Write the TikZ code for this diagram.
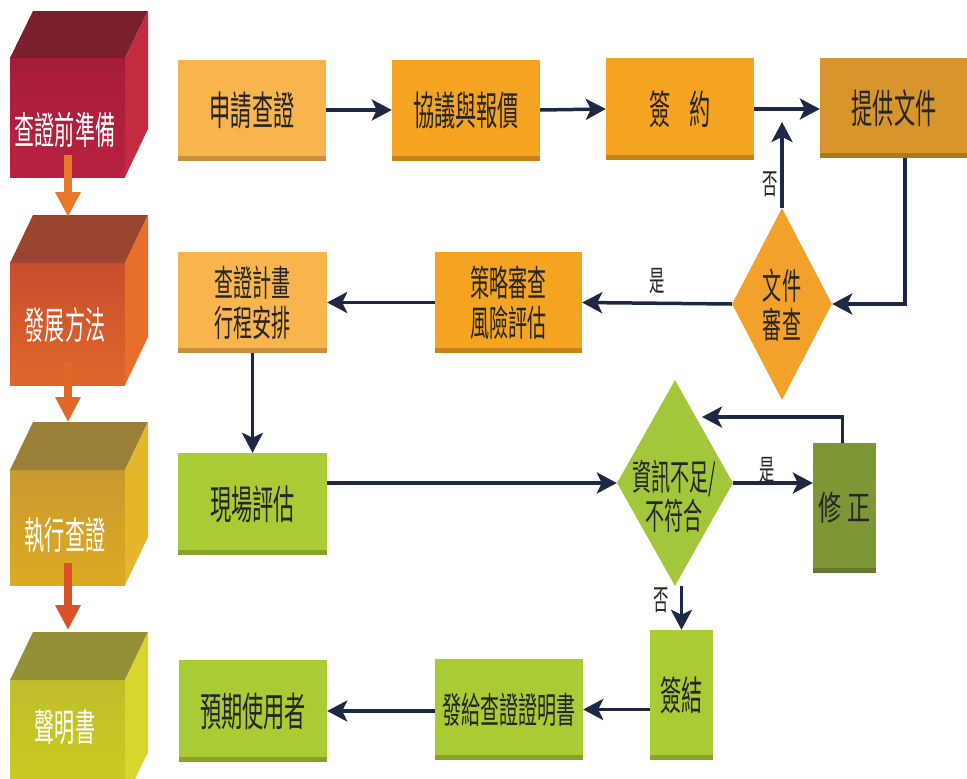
\documentclass[tikz,border=0pt]{standalone}
\usepackage{fontspec}
\usetikzlibrary{arrows.meta,shapes.geometric}
\newfontfamily\cjk[FakeStretch=0.53]{Noto Sans CJK TC}
\newfontfamily\cjkw[FakeStretch=0.68]{Noto Sans CJK TC}
\definecolor{lorange}{HTML}{F8B54E}
\definecolor{morange}{HTML}{F5A422}
\definecolor{gold}{HTML}{D8952B}
\definecolor{dorange}{HTML}{F2A12A}
\definecolor{ygreen}{HTML}{A9CC35}
\definecolor{dgreen}{HTML}{A2C73A}
\definecolor{olive}{HTML}{7D9636}
\definecolor{navy}{HTML}{1E2844}
\definecolor{txt}{HTML}{262626}
\definecolor{aro1}{HTML}{E9782A}
\definecolor{aro2}{HTML}{E2682A}
\definecolor{aro3}{HTML}{D9522A}
\newcommand\mycube[8]{%
  % #1 top y, #2 front top y, #3 front bottom y, #4 right bottom y
  % #5 front top color, #6 front bottom color, #7 top face, #8 right face
  \definecolor{cubeA}{HTML}{#5}\definecolor{cubeB}{HTML}{#6}%
  \definecolor{cubeC}{HTML}{#7}\definecolor{cubeD}{HTML}{#8}%
  \shade[top color=cubeA,bottom color=cubeB] (10,#2) rectangle (125,#3);
  \fill[cubeC] (10,#2) -- (33,#1) -- (148,#1) -- (125,#2) -- cycle;
  \fill[cubeD] (125,#2) -- (148,#1) -- (148,#4) -- (125,#3) -- cycle;
}
\begin{document}
\begin{tikzpicture}[x=1pt,y=-1pt,
  box/.style={rectangle, inner sep=0pt, text=txt, align=center,
    font=\cjk\fontsize{40}{40}\selectfont,
    path picture={\fill[black,opacity=0.2] ([yshift=5pt]path picture bounding box.south west) rectangle (path picture bounding box.south east);}},
  two/.style={font=\cjk\fontsize{36}{40}\selectfont},
  dia/.style={diamond, inner sep=0pt},
  dtext/.style={inner sep=0pt, text=txt, align=center, font=\cjk\fontsize{36}{39}\selectfont},
  arr/.style={draw=navy, line width=3.5pt, -{Stealth[length=20pt,width=21pt,inset=5pt]}},
  lbl/.style={font=\cjk\fontsize{29}{30}\selectfont, text=txt, inner sep=0pt},
  cubetxt/.style={font=\cjk\fontsize{38}{40}\selectfont, text=white, inner sep=0pt},
  blk/.style={line width=8pt, -{Triangle[length=25pt,width=24pt]}}
]
\clip (0,0) rectangle (967,779);
\fill[white] (0,0) rectangle (967,779);

% left cubes
\mycube{11}{58}{177}{129}{A51D3A}{B82240}{7A1F2E}{C42A40}
\mycube{215}{263}{385}{337}{C84E2E}{E0672A}{9A4530}{E86E2C}
\mycube{422}{470}{585}{537}{C89A30}{DDAA22}{9A8036}{E5B52A}
\mycube{632}{680}{800}{752}{C0BE2A}{CCCC22}{958F38}{D6D62C}
\node[cubetxt] (c1) at (65,130) {查證前準備};
\node[cubetxt] (c2) at (65,325) {發展方法};
\node[cubetxt] (c3) at (65,535) {執行查證};
\node[cubetxt] (c4) at (65,727) {聲明書};
\coordinate (s1) at (68,155); \coordinate (e1) at (68,217);
\coordinate (s2) at (68,362); \coordinate (e2) at (68,422);
\coordinate (s3) at (68,563); \coordinate (e3) at (68,630);
\draw[blk, aro1] (s1) -- (e1);
\draw[blk, aro2] (s2) -- (e2);
\draw[blk, aro3] (s3) -- (e3);

% row 1
\node[box, fill=lorange, minimum width=148pt, minimum height=101pt] (b1) at (252,110) {申請查證};
\node[box, fill=morange, minimum width=148pt, minimum height=101pt] (b2) at (466,110) {協議與報價};
\node[box, fill=morange, minimum width=148pt, minimum height=102pt] (b3) at (680,109) {簽\hspace{18pt}約};
\node[box, fill=gold, minimum width=148pt, minimum height=100pt] (b4) at (894,108) {提供文件};

% row 2
\node[dia, fill=dorange, minimum width=100pt, minimum height=192pt] (d1) at (782,304) {};
\node[dtext] (d1t) at (782,305) {文件\\審查};
\node[box, two, fill=morange, minimum width=147pt, minimum height=101pt] (b5) at (508.5,302.5) {策略審查\\風險評估};
\node[box, two, fill=lorange, minimum width=149pt, minimum height=101pt] (b6) at (252.5,302.5) {查證計畫\\行程安排};

% row 3
\node[box, fill=ygreen, minimum width=149pt, minimum height=102pt] (b7) at (252.5,504) {現場評估};
\node[dia, fill=dgreen, minimum width=116pt, minimum height=206pt] (d2) at (675,483) {};
\node[dtext] (d2t) at (674,496) {資訊不足/\\不符合};
\node[box, fill=olive, minimum width=63pt, minimum height=130pt, font=\cjkw\fontsize{34}{40}\selectfont] (b8) at (844.5,508) {修\hspace{6pt}正};

% row 4
\node[box, fill=ygreen, minimum width=63pt, minimum height=130pt] (b9) at (681.5,695) {簽結};
\node[box, two, fill=ygreen, minimum width=148pt, minimum height=101pt] (b10) at (509,709.5) {發給查證證明書};
\node[box, fill=ygreen, minimum width=148pt, minimum height=102pt] (b11) at (253,711) {預期使用者};

% connectors
\draw[arr] (b1.east) -- (b2.west);
\draw[arr] (b2.east) -- (b3.west);
\draw[arr] (b3.east) -- (b3.east -| b4.west);
\draw[arr] ([xshift=11pt]b4.south) |- (d1.east);
\coordinate (n1) at (782,122);
\draw[arr] (d1.north) -- (n1);
\node[lbl] (no1) at (770,184) {否};
\draw[arr] (d1.west) -- (b5.east);
\node[lbl] (yes1) at (657,281) {是};
\draw[arr] (b5.west) -- (b6.east);
\draw[arr] (b6.south) -- (b7.north);
\draw[arr] (b7.east |- d2.west) -- (d2.west);
\draw[arr] (d2.east) -- (d2.east -| b8.west);
\node[lbl] (yes2) at (767,470) {是};
\coordinate (lp) at (702,417);
\draw[arr] ([xshift=-2pt]b8.north) |- (lp);
\draw[arr] (b9.north |- d2.south) -- (b9.north);
\node[lbl] (no2) at (661,600) {否};
\draw[arr] (b9.west |- b10.east) -- (b10.east);
\draw[arr] (b10.west |- b11.east) -- (b11.east);
\end{tikzpicture}
\end{document}
